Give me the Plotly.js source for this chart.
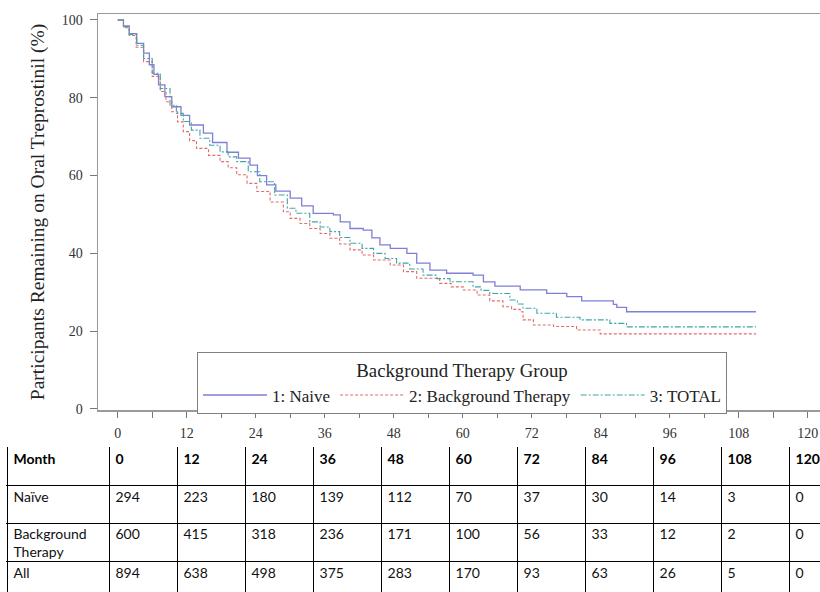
<!DOCTYPE html>
<html>
<head>
<meta charset="utf-8">
<script src="https://cdn.plot.ly/plotly-3.0.1.min.js"></script>
<style>
html,body{margin:0;padding:0;overflow:hidden;background:#fff;width:820px;height:592px;}
#chart{width:850px;height:612px;}
</style>
</head>
<body>
<div id="chart"></div>
<script>
// Kaplan-Meier step data (month, % remaining)
const naiveMonths = [0,1,2,3.3,4.5,5.5,6.3,7.1,8.2,9.4,11,12.5,14.9,16.5,19,21,23,24.3,25.9,27.5,30,32,34,37.5,38.7,40.4,42.7,44.2,45.6,47.4,50.3,52,54.3,57.2,61.8,63.6,65.6,70,74.6,78.1,80.7,86.2,86.8,88.5,111];
const naivePct    = [100,98.5,96.5,94,91.5,88.5,86,83.3,80.3,77.7,75.5,73,70.9,68.5,66,64.5,62.7,60,57.6,56,54.2,52.2,50.3,49.9,48.1,46.4,46,44,42.2,41.3,40,37.5,35.7,34.9,34.4,32.7,31.6,30.6,29.7,28.9,27.8,26.9,26.1,25,25];

const bgMonths = [0,1,2,3.2,4.5,6,7.4,8.4,9.4,10.4,11.4,12.5,13.7,15.8,17.8,19.2,20.7,22.5,24.2,26.5,28.8,30,31.7,33.4,35.2,36.9,38.6,40.4,42.5,44.5,47.4,49.7,52,56,58,60.1,62.5,64.7,67,68.5,70,70.5,72.3,75.8,79.8,83.9,111];
const bgPct    = [100,98,96,93,89.3,85.5,81.6,79,76.4,73.8,71.3,69,67,65.2,63.6,62,60.2,58,55.9,53.2,50.7,49,47.7,46.4,45.1,43.9,42.4,40.9,39.6,38.3,37,35.3,33.6,32.3,31.4,30.6,29.3,27.8,26.3,25.6,25,22.9,21.6,21.2,20.3,19.3,19.3];

const totalMonths = [0,1,2,3.3,4.5,6,7.4,9.1,10.2,11.4,12.8,14.3,16,17.8,19.2,20.7,22.7,24.7,27.3,29.5,31,33.4,35.2,36.9,38.6,40.4,42.5,44.5,46.5,48.5,50.8,53.1,55.5,57.8,61.8,63.2,64.7,68.2,69.5,70.5,72.9,76.3,80.4,85.6,88.5,111];
const totalPct    = [100,98.3,96.3,93.5,90.1,86.3,82.4,78.1,76,73.9,71.7,69.6,67.8,66.1,64.8,63.6,61,58.4,55,51.6,50.3,48.1,46.8,45.6,44.1,42.6,41.3,40,38.7,37.5,36,34.4,33.5,32.7,31.4,30.5,29.7,28,27,25.9,24.6,23.6,22.9,22,21.1,21.1];

const seriesNames = ["1: Naive", "2: Background Therapy", "3: TOTAL"];
const xTickVals = [0,12,24,36,48,60,72,84,96,108,120];
const yTickVals = [0,20,40,60,80,100];

// Numbers-at-risk table
const headerLabel = "Month";
const tableMonths = [0,12,24,36,48,60,72,84,96,108,120];
const rowLabels = ["Naïve", "Background Therapy", "All"];
const riskNaive = [294,223,180,139,112,70,37,30,14,3,0];
const riskBackground = [600,415,318,236,171,100,56,33,12,2,0];
const riskAll = [894,638,498,375,283,170,93,63,26,5,0];

const serif = "Liberation Serif, Times New Roman, serif";
const sans = "Lato, Open Sans, sans-serif";

const traces = [
  {x: naiveMonths, y: naivePct, name: seriesNames[0], type: "scatter", mode: "lines",
   line: {shape: "hv", color: "#7f7fd6", width: 1.3}},
  {x: bgMonths, y: bgPct, name: seriesNames[1], type: "scatter", mode: "lines",
   line: {shape: "hv", color: "#e46a6a", width: 1.1, dash: "3px,2px"}},
  {x: totalMonths, y: totalPct, name: seriesNames[2], type: "scatter", mode: "lines",
   line: {shape: "hv", color: "#3fa6a6", width: 1.1, dash: "6px,2px,2px,2px"}}
];

// table grid: first column 1.5 units wide, then one unit per month column; one unit per row
const colLeft = c => (c === 0 ? 0 : 1.5 + (c - 1));
const padX = 0.09, padY = 0.15;

// header row
const headerTexts = [headerLabel].concat(tableMonths.map(String));
traces.push({
  type: "scatter", mode: "text", xaxis: "x2", yaxis: "y2", showlegend: false, hoverinfo: "skip",
  x: headerTexts.map((_, c) => colLeft(c) + padX),
  y: headerTexts.map(() => 0 + padY),
  text: headerTexts, textposition: "bottom right",
  textfont: {family: sans, size: 14, color: "#000", weight: 700}
});
// body rows
const rowsData = [riskNaive, riskBackground, riskAll];
rowsData.forEach((vals, r) => {
  const texts = [rowLabels[r].replace(" ", "<br>")].concat(vals.map(String));
  traces.push({
    type: "scatter", mode: "text", xaxis: "x2", yaxis: "y2", showlegend: false, hoverinfo: "skip",
    x: texts.map((_, c) => colLeft(c) + padX),
    y: texts.map(() => r + 1 + padY - (r === 1 ? 0.03 : 0)),
    text: texts, textposition: "bottom right",
    textfont: {family: sans, size: 14, color: "#111"}
  });
});

const colBounds = [0].concat(tableMonths.map((_, i) => 1.5 + i)).concat([1.5 + tableMonths.length]);
const rowBounds = [0, 1, 2, 3, 4];

const layout = {
  width: 850, height: 612,
  margin: {l: 0, r: 0, t: 0, b: 0},
  paper_bgcolor: "#fff", plot_bgcolor: "rgba(0,0,0,0)",
  font: {family: serif, color: "#222"},
  showlegend: true,
  xaxis: {
    domain: [98/850, 840/850], range: [-3.43, 125.62],
    tickvals: xTickVals, ticks: "outside", ticklen: 6, tickwidth: 1, tickcolor: "#777",
    minor: {dtick: 6, tick0: 0, ticks: "outside", ticklen: 6, tickwidth: 1, tickcolor: "#777", showgrid: false},
    showline: true, linecolor: "#9a9a9a", linewidth: 1.5, mirror: true,
    showgrid: false, zeroline: false, ticklabelstandoff: 4,
    tickfont: {family: serif, size: 14, color: "#333"}
  },
  yaxis: {
    domain: [(612-410)/612, (612-14)/612], range: [-0.26, 101.54],
    tickvals: yTickVals, ticks: "outside", ticklen: 7, tickwidth: 1, tickcolor: "#777",
    showline: true, linecolor: "#9a9a9a", linewidth: 1.5, mirror: true,
    showgrid: false, zeroline: false, ticklabelstandoff: 4,
    tickfont: {family: serif, size: 14, color: "#333"},
    title: {text: "Participants Remaining on Oral Treprostinil (%)", standoff: 12,
      font: {family: serif, size: 19.5, color: "#222"}}
  },
  xaxis2: {
    domain: [6/850, 1], range: [-0.02, 12.39], anchor: "y2",
    tickvals: colBounds, showticklabels: false, ticks: "",
    showgrid: true, gridcolor: "#000", gridwidth: 1.5, zeroline: false, showline: false
  },
  yaxis2: {
    domain: [0, (612-447)/612], range: [4.33, -0.012], anchor: "x2",
    tickvals: rowBounds, showticklabels: false, ticks: "",
    showgrid: true, gridcolor: "#000", gridwidth: 1.5, zeroline: false, showline: false
  },
  legend: {
    orientation: "h", x: 462/850, xanchor: "center", y: (612-383)/612, yanchor: "middle",
    bordercolor: "#808080", borderwidth: 1, bgcolor: "#fff",
    font: {family: serif, size: 17, color: "#222"},
    title: {text: "Background Therapy Group", side: "top center", font: {family: serif, size: 18.8, color: "#222"}},
    itemwidth: 64, tracegroupgap: 0
  }
};

Plotly.newPlot("chart", traces, layout, {displayModeBar: false, staticPlot: true});
</script>
</body>
</html>
